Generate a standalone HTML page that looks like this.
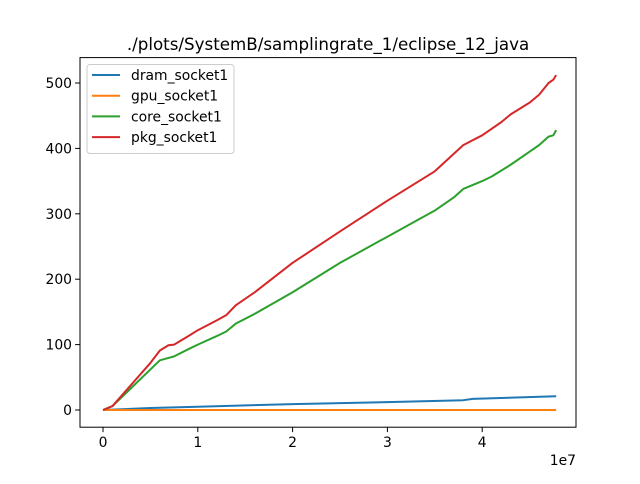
<!DOCTYPE html>
<html><head><meta charset="utf-8"><style>
body{margin:0;background:#fff;font-family:"DejaVu Sans","Liberation Sans",sans-serif;}
svg text{font-family:"DejaVu Sans","Liberation Sans",sans-serif;}
</style></head><body>
<svg id="chart" width="640" height="480" xmlns="http://www.w3.org/2000/svg">
<rect width="640" height="480" fill="#fff"/>
<g id="plot"></g>
</svg>
<script>
const xTicks=[0,1,2,3,4];
const yTicks=[0,100,200,300,400,500];
const seriesNames=["dram_socket1","gpu_socket1","core_socket1","pkg_socket1"];
const seriesColors=["#1f77b4","#ff7f0e","#2ca02c","#d62728"];
const dramX=[0,0.5,1,2,3,3.8,3.9,4.78];
const dramY=[0,3,5,9,12,15,17,21];
const gpuX=[0,4.78];
const gpuY=[0,0];
const coreX=[0,0.1,0.5,0.6,0.7,0.75,0.9,1.0,1.2,1.3,1.4,1.6,2.0,2.5,3.0,3.5,3.7,3.8,4.0,4.1,4.3,4.5,4.6,4.7,4.75,4.78];
const coreY=[0,6,62,76,80,82,93,100,113,120,132,147,180,225,265,305,325,338,350,357,375,395,405,418,420,428];
const pkgX=[0,0.1,0.5,0.6,0.69,0.75,0.9,1.0,1.2,1.3,1.4,1.6,2.0,2.5,3.0,3.5,3.8,4.0,4.2,4.3,4.5,4.6,4.7,4.75,4.78];
const pkgY=[0,6,72,91,99,100,113,122,137,145,160,180,225,273,320,365,405,420,440,452,470,482,500,505,512];
const L=80,R=576,T=57.6,B=427.2;
const xs=v=>103+v*94.8;
const ys=v=>410-v*0.654;
const g=document.getElementById('plot');
const NS="http://www.w3.org/2000/svg";
function mk(t,a,p){const e=document.createElementNS(NS,t);for(const k in a)e.setAttribute(k,a[k]);(p||g).appendChild(e);return e;}
const sx=[dramX,gpuX,coreX,pkgX],sy=[dramY,gpuY,coreY,pkgY];
for(let i=0;i<4;i++){
 const pts=sx[i].map((x,j)=>xs(x)+','+ys(sy[i][j])).join(' ');
 const pl=mk('polyline',{points:pts,fill:'none',stroke:seriesColors[i],'stroke-width':2,'stroke-linejoin':'round'});
 
 
}
const fr=mk('rect',{x:L,y:T,width:R-L,height:B-T,fill:'none',stroke:'#000','stroke-width':1});


xTicks.forEach(t=>{const x=xs(t);mk('line',{x1:x,x2:x,y1:B,y2:B+4.9,stroke:'#000','stroke-width':1});
 const tx=mk('text',{x:x,y:B+20,'font-size':13.9,'text-anchor':'middle'});tx.textContent=t;
 
 });
yTicks.forEach(t=>{const y=ys(t);mk('line',{x1:L-4.9,x2:L,y1:y,y2:y,stroke:'#000','stroke-width':1});
 const tx=mk('text',{x:L-8,y:y+5,'font-size':13.9,'text-anchor':'end'});tx.textContent=t;
 
 });
const ex=mk('text',{x:576,y:465,'font-size':13.9,'text-anchor':'end'});ex.textContent='1e7';


const ti=mk('text',{x:328,y:50,'font-size':16.7,'text-anchor':'middle'});ti.textContent='./plots/SystemB/samplingrate_1/eclipse_12_java';


const lg=mk('rect',{x:87,y:64.5,width:147,height:89,fill:'#fff',stroke:'#ccc',rx:3});


seriesNames.forEach((n,i)=>{const y=75+i*20.7;
 mk('line',{x1:92,x2:120,y1:y,y2:y,stroke:seriesColors[i],'stroke-width':2});
 const t=mk('text',{x:131,y:y+5,'font-size':13.9});t.textContent=n;
 
 });
</script>
</body></html>
